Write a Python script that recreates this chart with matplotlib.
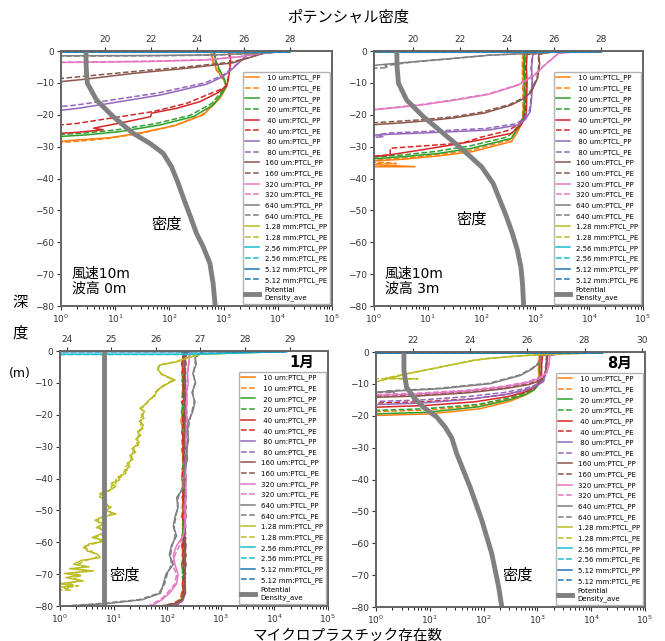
import matplotlib
matplotlib.use('Agg')
import matplotlib.pyplot as plt

plt.rcParams['font.family'] = ['DejaVu Sans', 'Noto Sans CJK JP']

# particle sizes shown in every panel
sizes = [' 10 um', ' 20 um', ' 40 um', ' 80 um', '160 um', '320 um', '640 um',
         '1.28 mm', '2.56 mm', '5.12 mm']

# ---- top left: wind 10m, wave 0m  (depth m, count) ----
tl_pp_10 = [(-0.3, 600), (-3, 640), (-6, 760), (-9, 1000), (-11, 1150), (-14.8, 860), (-20, 425),
            (-23.2, 136), (-25.5, 33), (-27.2, 8), (-27.9, 2), (-28.3, 1), (-28.5, 0)]
tl_pe_10 = [(-0.3, 580), (-3, 620), (-6, 740), (-9, 980), (-11, 1130), (-14.8, 820), (-20, 400),
            (-23.5, 120), (-25.8, 30), (-27.5, 7), (-28.3, 2), (-28.7, 1), (-28.9, 0)]
tl_pp_20 = [(-0.3, 680), (-3, 720), (-6, 850), (-9, 1050), (-11, 1130), (-12.7, 990), (-16.9, 650),
            (-20.6, 275), (-23.2, 67), (-25.3, 12), (-26.3, 3), (-26.8, 1), (-27.0, 0)]
tl_pe_20 = [(-0.3, 660), (-3, 700), (-6, 830), (-9, 1030), (-11, 1110), (-12.5, 950), (-16.5, 600),
            (-20.2, 240), (-22.8, 55), (-24.8, 10), (-25.8, 2.5), (-26.2, 1), (-26.4, 0)]
tl_pp_40 = [(-0.3, 1300), (-3, 1350), (-6, 1300), (-9, 1220), (-10.8, 1150), (-13, 800), (-15.9, 365),
            (-18, 135), (-19.5, 47), (-20.6, 45), (-22.2, 16), (-24.2, 4), (-24.7, 6), (-25.5, 2),
            (-25.8, 1), (-26.0, 0)]
tl_pe_40 = [(-0.3, 1250), (-3, 1300), (-6, 1280), (-9, 1200), (-10.5, 1150), (-11.7, 990), (-13.8, 490),
            (-16.4, 210), (-19, 50), (-21.1, 8), (-22.7, 2), (-23.2, 1), (-23.5, 0)]
tl_pp_80 = [(-0.3, 9000), (-1.3, 2700), (-5.4, 1500), (-8, 980), (-10.4, 490), (-13.8, 68), (-16.4, 8),
            (-18, 2), (-18.6, 1), (-18.8, 0)]
tl_pe_80 = [(-0.3, 9000), (-1.3, 2700), (-5.2, 1500), (-7.7, 950), (-10, 450), (-13.2, 60), (-15.6, 7),
            (-17, 1.8), (-17.4, 1), (-17.6, 0)]
tl_pp_160 = [(-0.3, 8000), (-0.7, 5500), (-2.3, 2700), (-3.7, 1500), (-5.4, 210), (-7, 22), (-8.9, 2.6),
             (-9.6, 1), (-9.9, 0)]
tl_pe_160 = [(-0.3, 8000), (-0.7, 5500), (-2.2, 2700), (-3.5, 1400), (-5.0, 200), (-6.5, 20), (-8.0, 2.4),
             (-8.6, 1), (-8.8, 0)]
tl_pp_320 = [(-0.3, 9000), (-1.0, 3500), (-1.8, 2000), (-2.8, 490), (-3.3, 40), (-3.6, 1), (-3.8, 0)]
tl_pe_320 = [(-0.3, 9000), (-1.0, 3500), (-1.8, 2000), (-2.7, 480), (-3.2, 40), (-3.5, 1), (-3.7, 0)]
tl_pp_640 = [(-0.3, 12000), (-0.8, 3000), (-1.2, 700), (-1.4, 50), (-1.5, 1), (-1.6, 0)]
tl_pe_640 = [(-0.3, 12000), (-0.8, 3000), (-1.3, 650), (-1.5, 45), (-1.6, 1), (-1.7, 0)]
tl_pp_1280 = [(-0.25, 15000), (-0.6, 0)]
tl_pe_1280 = [(-0.25, 15000), (-0.6, 0)]
tl_pp_2560 = [(-0.25, 16000), (-0.6, 0)]
tl_pe_2560 = [(-0.25, 16000), (-0.6, 0)]
tl_pp_5120 = [(-0.25, 17000), (-0.6, 0)]
tl_pe_5120 = [(-0.25, 17000), (-0.6, 0)]
tl_density = [(0, 19.18), (-5, 19.19), (-10.1, 19.24), (-15.4, 19.64), (-20.6, 20.36), (-25.8, 21.22),
              (-29, 21.95), (-32.1, 22.52), (-36.3, 22.88), (-41.5, 23.17), (-46.8, 23.43), (-52, 23.7),
              (-57.2, 23.96), (-61.4, 24.25), (-66.6, 24.54), (-72.9, 24.68), (-80, 24.77)]

# ---- top right: wind 10m, wave 3m ----
tr_pp_10 = [(-0.3, 1200), (-1, 600), (-5, 590), (-10, 600), (-15, 610), (-20, 600), (-22.5, 570),
            (-25, 480), (-28.4, 360), (-31.6, 66), (-32.9, 16), (-33.9, 3.8), (-34.5, 1), (-35.5, 0.7),
            (-36.3, 5.8), (-36.6, 0)]
tr_pe_10 = [(-0.3, 1200), (-1, 580), (-5, 570), (-10, 580), (-15, 590), (-20, 580), (-22.5, 550),
            (-25, 450), (-28, 320), (-31.2, 60), (-32.6, 14), (-33.6, 3.5), (-34.2, 1), (-34.8, 0.8),
            (-35.3, 2.6), (-35.5, 0)]
tr_pp_20 = [(-0.3, 1200), (-1, 640), (-5, 620), (-10, 640), (-15, 640), (-20, 620), (-22.5, 560),
            (-25, 440), (-27.4, 360), (-30.5, 66), (-32.1, 16), (-33.1, 3.8), (-33.8, 1), (-34.0, 0)]
tr_pe_20 = [(-0.3, 1200), (-1, 620), (-5, 600), (-10, 620), (-15, 620), (-20, 600), (-22.5, 540),
            (-25, 400), (-27, 300), (-29.8, 60), (-31.5, 14), (-32.6, 3.5), (-33.3, 1), (-33.5, 0)]
tr_pp_40 = [(-0.3, 1200), (-1, 700), (-5, 680), (-10, 700), (-15, 690), (-19, 680), (-21, 650),
            (-23.5, 520), (-25.8, 360), (-28.4, 66), (-31, 7.8), (-32.6, 1.9), (-33.1, 1), (-33.3, 0)]
tr_pe_40 = [(-0.3, 1200), (-1, 680), (-5, 660), (-10, 680), (-15, 670), (-19, 650), (-21, 600),
            (-23.2, 480), (-25, 300), (-27, 100), (-28.9, 44), (-30.5, 2), (-32.6, 2), (-33.0, 1),
            (-33.2, 0)]
tr_pp_80 = [(-0.3, 1500), (-1, 900), (-5, 850), (-10, 880), (-15, 850), (-19, 800), (-21.5, 650),
            (-23.2, 480), (-24.8, 135), (-25.5, 16), (-26.1, 2.1), (-26.4, 1), (-26.6, 0)]
tr_pe_80 = [(-0.3, 1500), (-1, 880), (-5, 830), (-10, 860), (-15, 830), (-18.5, 780), (-21, 620),
            (-22.8, 450), (-24.3, 120), (-25.1, 14), (-25.7, 2), (-26.2, 1.2), (-27.0, 1.5), (-27.2, 0)]
tr_pp_160 = [(-0.3, 2000), (-1, 1150), (-4, 1200), (-8.5, 1100), (-12.7, 850), (-15, 600), (-17, 350),
             (-19.5, 110), (-21, 30), (-22, 8), (-22.6, 3), (-23.1, 1), (-23.3, 0)]
tr_pe_160 = [(-0.3, 2000), (-1, 1120), (-4, 1170), (-8.5, 1070), (-12.5, 820), (-14.8, 580), (-16.8, 330),
             (-19.2, 100), (-20.7, 28), (-21.6, 7), (-22.1, 2.5), (-22.5, 1), (-22.7, 0)]
tr_pp_320 = [(-0.3, 5000), (-0.7, 2700), (-4.4, 1500), (-7.5, 980), (-10.7, 480), (-13.6, 135), (-15.4, 32),
             (-16.9, 7.8), (-18, 1.9), (-18.4, 1), (-18.6, 0)]
tr_pe_320 = [(-0.3, 5000), (-0.7, 2700), (-4.3, 1500), (-7.4, 960), (-10.6, 470), (-13.5, 130), (-15.3, 30),
             (-16.8, 7.5), (-17.9, 1.8), (-18.3, 1), (-18.5, 0)]
tr_pp_640 = [(-0.3, 2500), (-0.8, 600), (-1.3, 140), (-2.3, 30), (-3.3, 6), (-4.1, 1.8), (-4.5, 1), (-4.7, 0)]
tr_pe_640 = [(-0.3, 2500), (-0.8, 600), (-1.3, 140), (-2.4, 28), (-3.5, 5), (-4.6, 1.6), (-5.3, 1.8), (-5.5, 0)]
tr_pp_1280 = [(-0.25, 15000), (-0.6, 0)]
tr_pe_1280 = [(-0.25, 15000), (-0.6, 0)]
tr_pp_2560 = [(-0.25, 16000), (-0.6, 0)]
tr_pe_2560 = [(-0.25, 16000), (-0.6, 0)]
tr_pp_5120 = [(-0.25, 17000), (-0.6, 0)]
tr_pe_5120 = [(-0.25, 17000), (-0.6, 0)]
tr_density = [(0, 19.31), (-5, 19.32), (-10.1, 19.38), (-15.4, 19.73), (-20.6, 20.44), (-25.8, 21.28),
              (-31.1, 22.13), (-36.3, 22.91), (-41.5, 23.40), (-46.8, 23.69), (-52, 23.97), (-57.2, 24.22),
              (-62.4, 24.43), (-67.7, 24.58), (-72.9, 24.65), (-80, 24.70)]

# ---- bottom left: January ----
bl_depth = [-0.5, -2, -4, -7, -10, -13, -16, -19, -22, -25, -28, -31, -34, -37, -40, -43, -46, -49, -52,
            -55, -58, -61, -64, -67, -70, -73, -76, -78, -79.2, -80]
bl_pp_10 = [210, 195, 200, 185, 205, 190, 210, 195, 180, 200, 215, 190, 205, 195, 185, 210, 200, 190, 205,
            195, 210, 185, 200, 195, 210, 190, 200, 180, 140, 100]
bl_pe_10 = [200, 205, 190, 200, 185, 210, 195, 205, 190, 210, 195, 185, 200, 210, 195, 190, 205, 200, 185,
            210, 195, 200, 190, 205, 195, 210, 185, 170, 130, 90]
bl_pp_20 = [190, 210, 215, 200, 195, 215, 200, 185, 205, 190, 200, 215, 195, 205, 215, 195, 210, 205, 195,
            200, 190, 215, 205, 185, 200, 215, 205, 190, 160, 120]
bl_pe_20 = [205, 200, 195, 215, 205, 195, 185, 210, 200, 195, 210, 200, 215, 190, 200, 205, 190, 215, 210,
            190, 205, 195, 215, 200, 190, 200, 195, 185, 150, 110]
bl_pp_40 = [220, 205, 185, 210, 200, 200, 215, 205, 195, 215, 190, 205, 195, 215, 205, 200, 195, 210, 190,
            215, 200, 205, 195, 210, 205, 195, 210, 195, 165, 130]
bl_pe_40 = [215, 195, 210, 190, 215, 205, 195, 215, 210, 185, 205, 195, 210, 200, 190, 215, 205, 195, 215,
            200, 210, 190, 210, 195, 215, 205, 190, 200, 170, 140]
bl_pp_80 = [230, 215, 205, 220, 210, 225, 205, 215, 220, 205, 215, 225, 210, 200, 220, 215, 225, 200, 215,
            220, 205, 225, 215, 210, 220, 205, 215, 200, 160, 110]
bl_pe_80 = [225, 220, 210, 205, 225, 210, 220, 205, 215, 225, 210, 205, 220, 215, 205, 225, 210, 220, 205,
            210, 225, 210, 205, 220, 210, 220, 205, 195, 150, 100]
bl_pp_160 = [240, 220, 215, 210, 220, 205, 225, 215, 205, 220, 210, 215, 225, 205, 215, 210, 220, 215, 225,
             205, 215, 220, 210, 225, 205, 215, 220, 190, 140, 80]
bl_pe_160 = [235, 215, 225, 215, 205, 220, 210, 225, 215, 210, 225, 205, 215, 220, 210, 205, 215, 225, 210,
             220, 210, 205, 225, 210, 220, 210, 200, 180, 130, 75]
bl_pp_320 = [280, 260, 250, 240, 245, 230, 235, 225, 240, 230, 220, 235, 225, 215, 230, 220, 225, 215, 220,
             210, 200, 150, 130, 140, 160, 150, 110, 80, 60, 50]
bl_pe_320 = [270, 250, 255, 235, 240, 235, 225, 235, 230, 225, 230, 220, 230, 225, 215, 225, 215, 220, 210,
             220, 195, 170, 140, 125, 150, 140, 100, 75, 55, 45]
bl_pp_640 = [450, 330, 350, 300, 340, 290, 330, 300, 250, 240, 250, 230, 240, 210, 200, 200, 150, 160, 140,
             130, 150, 120, 110, 130, 95, 85, 75, 35, 8, 1.5]
bl_pe_640 = [420, 340, 330, 310, 330, 300, 320, 290, 260, 245, 240, 235, 230, 215, 205, 190, 160, 155, 145,
             135, 140, 125, 115, 120, 100, 90, 70, 30, 6, 1.2]
bl_pp_1280 = [(-0.2, 12000), (-1.0, 410), (-2.3, 230), (-3.4, 150), (-4.4, 72), (-5.9, 68), (-7.3, 80),
              (-9.1, 140), (-10.3, 100), (-11.7, 74), (-13, 62), (-14.2, 58), (-15.3, 46), (-16.4, 42),
              (-17.2, 36), (-18, 31), (-19, 38), (-20, 33), (-21, 37), (-22, 30), (-23.2, 36), (-24.3, 33),
              (-25.3, 28), (-26.5, 32), (-27.6, 26), (-28.6, 30), (-29.5, 27), (-30.6, 22), (-31.7, 26),
              (-32.8, 20), (-34, 23), (-35.2, 18), (-36.3, 20), (-37.4, 16), (-38.4, 17), (-39.5, 12),
              (-40.4, 13), (-41.6, 9), (-42.5, 11), (-43.6, 8.5), (-44.7, 6), (-45.8, 5.5), (-46.8, 7.5),
              (-47.9, 6.5), (-49, 9), (-50, 7), (-51.1, 11), (-52.1, 6), (-53.1, 4.5), (-54.2, 6.5),
              (-55.4, 4.8), (-56.3, 7), (-57.3, 6), (-58.5, 4), (-59.6, 7.4), (-60.5, 3.5), (-61.5, 3),
              (-62.7, 3.2), (-63.7, 5), (-64.8, 5.6), (-65.7, 2.5), (-66.9, 1.8), (-67.7, 3.5), (-68.3, 1.5),
              (-69, 4.2), (-69.8, 1.2), (-70.4, 2.2), (-71.1, 1.3), (-72.1, 2.7), (-73, 1.0), (-73.7, 1.8),
              (-74.3, 0.8), (-75.5, 0)]
bl_pe_1280 = [(-0.2, 12000), (-1.0, 400), (-2.3, 220), (-3.4, 140), (-4.4, 70), (-5.9, 66), (-7.3, 78),
              (-9.1, 130), (-10.3, 95), (-11.7, 70), (-13, 60), (-14.2, 55), (-15.3, 48), (-16.4, 40),
              (-17.2, 38), (-18, 33), (-19, 35), (-20, 36), (-21, 32), (-22, 33), (-23.2, 32), (-24.3, 35),
              (-25.3, 30), (-26.5, 29), (-27.6, 28), (-28.6, 27), (-29.5, 29), (-30.6, 24), (-31.7, 23),
              (-32.8, 22), (-34, 21), (-35.2, 20), (-36.3, 17), (-37.4, 18), (-38.4, 14), (-39.5, 14),
              (-40.4, 11), (-41.6, 11), (-42.5, 9), (-43.6, 9.5), (-44.7, 5.5), (-45.8, 6.5), (-46.8, 6.5),
              (-47.9, 7.5), (-49, 8), (-50, 8.5), (-51.1, 9), (-52.1, 7), (-53.1, 5), (-54.2, 5.5),
              (-55.4, 5.5), (-56.3, 6), (-57.3, 6.8), (-58.5, 4.5), (-59.6, 6), (-60.5, 4.2), (-61.5, 2.6),
              (-62.7, 3.8), (-63.7, 4.4), (-64.8, 4.8), (-65.7, 3), (-66.9, 2.2), (-67.7, 2.8), (-68.3, 2),
              (-69, 3.4), (-69.8, 1.5), (-70.4, 2.6), (-71.1, 1.8), (-72.1, 2.2), (-73, 1.4), (-73.7, 2.2),
              (-74.3, 1.2), (-75, 1.6), (-75.8, 0)]
bl_pp_2560 = [(-0.2, 15000), (-1.0, 250), (-1.3, 0)]
bl_pe_2560 = [(-0.2, 15000), (-1.1, 240), (-1.4, 0)]
bl_pp_5120 = [(-0.2, 17000), (-0.6, 0)]
bl_pe_5120 = [(-0.2, 17000), (-0.6, 0)]
bl_density = [(0, 24.84), (-80, 24.84)]

# ---- bottom right: August ----
br_pp_10 = [(-0.3, 2500), (-1, 1100), (-4, 1050), (-7, 1080), (-10, 1050), (-12, 850), (-13.5, 600),
            (-15.5, 300), (-17.8, 85), (-19.4, 10), (-19.9, 1), (-20.1, 0)]
br_pe_10 = [(-0.3, 2500), (-1, 1080), (-4, 1030), (-7, 1060), (-10, 1000), (-11.8, 820), (-13, 580),
            (-14.8, 290), (-16.8, 80), (-18.2, 9), (-18.7, 1), (-18.9, 0)]
br_pp_20 = [(-0.3, 2500), (-1, 1150), (-4, 1100), (-7, 1120), (-10, 1080), (-11.8, 880), (-13.2, 620),
            (-15, 300), (-17.2, 80), (-18.9, 9), (-19.4, 1), (-19.6, 0)]
br_pe_20 = [(-0.3, 2500), (-1, 1130), (-4, 1080), (-7, 1100), (-10, 1040), (-11.6, 840), (-12.8, 600),
            (-14.5, 280), (-16.5, 75), (-17.8, 8), (-18.3, 1), (-18.5, 0)]
br_pp_40 = [(-0.3, 2500), (-1, 1250), (-4, 1200), (-7, 1200), (-9.5, 1150), (-11.3, 850), (-12.5, 600),
            (-14, 280), (-15.6, 70), (-16.8, 8), (-17.3, 1), (-17.5, 0)]
br_pe_40 = [(-0.3, 2500), (-1, 1230), (-4, 1180), (-7, 1180), (-9.3, 1100), (-11, 820), (-12, 580),
            (-13.3, 260), (-14.7, 60), (-15.6, 7), (-16.0, 1), (-16.2, 0)]
br_pp_80 = [(-0.3, 3000), (-1, 1500), (-4, 1450), (-7, 1400), (-9.3, 1300), (-10.8, 900), (-12, 600),
            (-13.3, 260), (-14.8, 55), (-16, 7), (-16.5, 1), (-16.7, 0)]
br_pe_80 = [(-0.3, 3000), (-1, 1480), (-4, 1430), (-7, 1380), (-9, 1250), (-10.5, 870), (-11.5, 570),
            (-12.7, 240), (-14, 50), (-15.1, 6), (-15.5, 1), (-15.7, 0)]
br_pp_160 = [(-0.3, 3000), (-1, 1550), (-4, 1500), (-7, 1400), (-8.8, 1200), (-10.2, 700), (-11.5, 250),
             (-12.8, 50), (-13.8, 6), (-14.2, 1), (-14.4, 0)]
br_pe_160 = [(-0.3, 3000), (-1, 1530), (-4, 1480), (-7, 1380), (-8.6, 1150), (-10, 680), (-11.2, 240),
             (-12.5, 48), (-13.5, 6), (-13.9, 1), (-14.1, 0)]
br_pp_320 = [(-0.3, 3500), (-1, 1700), (-4, 1650), (-6.5, 1500), (-8.3, 1100), (-9.6, 650), (-10.9, 250),
             (-12.2, 50), (-13.2, 6), (-13.6, 1), (-13.8, 0)]
br_pe_320 = [(-0.3, 3500), (-1, 1680), (-4, 1630), (-6.5, 1480), (-8.1, 1060), (-9.4, 630), (-10.7, 240),
             (-12, 48), (-12.9, 6), (-13.3, 1), (-13.5, 0)]
br_pp_640 = [(-0.3, 2500), (-1, 1150), (-3.1, 1150), (-5.3, 800), (-7.3, 490), (-9.9, 135), (-11.5, 16),
             (-12.3, 1.9), (-12.6, 1), (-12.8, 0)]
br_pe_640 = [(-0.3, 2500), (-1, 1130), (-3.0, 1120), (-5.2, 780), (-7.2, 470), (-9.8, 125), (-11.4, 14),
             (-12.2, 1.6), (-12.6, 2.2), (-12.8, 0)]
br_pp_1280 = [(-0.3, 12000), (-0.8, 1150), (-1.3, 400), (-2.0, 130), (-2.6, 66), (-4.7, 16), (-6.8, 3.8),
              (-8.3, 1.7), (-9.4, 1), (-9.6, 0)]
br_pe_1280 = [(-0.3, 12000), (-0.8, 1100), (-1.3, 380), (-2.0, 120), (-2.7, 60), (-4.8, 15), (-6.9, 3.6),
              (-8.2, 1.5), (-8.4, 6), (-8.6, 0)]
br_pp_2560 = [(-0.3, 16000), (-0.7, 0)]
br_pe_2560 = [(-0.3, 16000), (-0.7, 0)]
br_pp_5120 = [(-0.3, 16500), (-0.7, 0)]
br_pe_5120 = [(-0.3, 16500), (-0.7, 0)]
br_density = [(0, 21.67), (-5.8, 21.67), (-11, 21.76), (-14.1, 22.0), (-17.3, 22.35), (-20.4, 22.82),
              (-23.5, 23.11), (-27, 23.35), (-31.9, 23.52), (-42.4, 23.99), (-52.8, 24.40), (-63.3, 24.75),
              (-73.7, 24.99), (-80, 25.1)]


def pairs(vals):
    return [(d, v) for d, v in zip(bl_depth, vals)]


colors = ['C1', 'C2', 'C3', 'C4', 'C5', 'C6', 'C7', 'C8', 'C9', 'C0']

fig = plt.figure(figsize=(6.65, 6.41), dpi=100)


def draw_panel(rect, pp, pe, density, dlim, dticks, note=None, dens_xy=(0.4, 0.3), month=None):
    ax = fig.add_axes(rect)
    ax.set_xscale('log')
    for i in range(10):
        d, v = zip(*pp[i])
        ax.plot(v, d, color=colors[i], lw=1.1, label=sizes[i] + ':PTCL_PP')
        d, v = zip(*pe[i])
        ax.plot(v, d, color=colors[i], lw=1.1, ls='--', label=sizes[i] + ':PTCL_PE')
    ax.set_xlim(1, 1e5)
    ax.set_ylim(-80, 0)
    ax.set_yticks(range(-80, 1, 10))
    ax.tick_params(labelsize=6.5, colors='#333333', length=3, pad=2)
    ax2 = ax.twiny()
    dd, dv = zip(*density)
    ax2.plot(dv, dd, color='gray', lw=3.5, label='Potential\nDensity_ave')
    ax2.set_xlim(*dlim)
    ax2.set_xticks(dticks)
    ax2.tick_params(labelsize=6.5, colors='#333333', length=3, pad=2)
    for a in (ax, ax2):
        for s in a.spines.values():
            s.set_color('#666666')
            s.set_linewidth(1.3)
    h1, l1 = ax.get_legend_handles_labels()
    h2, l2 = ax2.get_legend_handles_labels()
    ax2.legend(h1 + h2, l1 + l2, loc='lower right', fontsize=5, labelspacing=0.56,
               borderaxespad=0.3, handlelength=2.0, handletextpad=0.8, borderpad=0.4,
               edgecolor='0.7', framealpha=1)
    if note:
        ax.text(0.04, 0.04, note, transform=ax.transAxes, fontsize=10, va='bottom',
                ha='left', linespacing=1.1)
    ax.text(dens_xy[0], dens_xy[1], '密度', transform=ax.transAxes, fontsize=11,
            ha='center', va='center')
    if month:
        ax.text(0.95, 0.955, month, transform=ax.transAxes, fontsize=10.5,
                ha='right', va='center', fontweight='bold')
    return ax


tl_pp = [tl_pp_10, tl_pp_20, tl_pp_40, tl_pp_80, tl_pp_160, tl_pp_320, tl_pp_640, tl_pp_1280, tl_pp_2560, tl_pp_5120]
tl_pe = [tl_pe_10, tl_pe_20, tl_pe_40, tl_pe_80, tl_pe_160, tl_pe_320, tl_pe_640, tl_pe_1280, tl_pe_2560, tl_pe_5120]
tr_pp = [tr_pp_10, tr_pp_20, tr_pp_40, tr_pp_80, tr_pp_160, tr_pp_320, tr_pp_640, tr_pp_1280, tr_pp_2560, tr_pp_5120]
tr_pe = [tr_pe_10, tr_pe_20, tr_pe_40, tr_pe_80, tr_pe_160, tr_pe_320, tr_pe_640, tr_pe_1280, tr_pe_2560, tr_pe_5120]
bl_pp = [pairs(bl_pp_10), pairs(bl_pp_20), pairs(bl_pp_40), pairs(bl_pp_80), pairs(bl_pp_160),
         pairs(bl_pp_320), pairs(bl_pp_640), bl_pp_1280, bl_pp_2560, bl_pp_5120]
bl_pe = [pairs(bl_pe_10), pairs(bl_pe_20), pairs(bl_pe_40), pairs(bl_pe_80), pairs(bl_pe_160),
         pairs(bl_pe_320), pairs(bl_pe_640), bl_pe_1280, bl_pe_2560, bl_pe_5120]
br_pp = [br_pp_10, br_pp_20, br_pp_40, br_pp_80, br_pp_160, br_pp_320, br_pp_640, br_pp_1280, br_pp_2560, br_pp_5120]
br_pe = [br_pe_10, br_pe_20, br_pe_40, br_pe_80, br_pe_160, br_pe_320, br_pe_640, br_pe_1280, br_pe_2560, br_pe_5120]

draw_panel([0.0917, 0.5226, 0.4075, 0.3978], tl_pp, tl_pe, tl_density, (18.1, 29.82), [20, 22, 24, 26, 28],
           note='風速10m\n波高 0m', dens_xy=(0.39, 0.32))
draw_panel([0.5624, 0.5226, 0.4045, 0.3978], tr_pp, tr_pe, tr_density, (18.34, 29.77), [20, 22, 24, 26, 28],
           note='風速10m\n波高 3m', dens_xy=(0.365, 0.34))
draw_panel([0.0902, 0.0546, 0.4030, 0.3978], bl_pp, bl_pe, bl_density, (23.85, 29.86), [24, 25, 26, 27, 28, 29],
           dens_xy=(0.243, 0.12), month='1月')
draw_panel([0.5654, 0.0530, 0.4045, 0.3978], br_pp, br_pe, br_density, (20.69, 30.12), [22, 24, 26, 28, 30],
           dens_xy=(0.528, 0.125), month='8月')

fig.text(0.523, 1 - 17 / 641, 'ポテンシャル密度', ha='center', va='center', fontsize=11)
fig.text(0.523, 1 - 635 / 641, 'マイクロプラスチック存在数', ha='center', va='center', fontsize=10.5)
fig.text(20 / 665, 1 - 303 / 641, '深', ha='center', va='center', fontsize=11)
fig.text(20 / 665, 1 - 333 / 641, '度', ha='center', va='center', fontsize=11)
fig.text(20 / 665, 1 - 373 / 641, '(m)', ha='center', va='center', fontsize=9)

fig.savefig('out.png', dpi=100)
